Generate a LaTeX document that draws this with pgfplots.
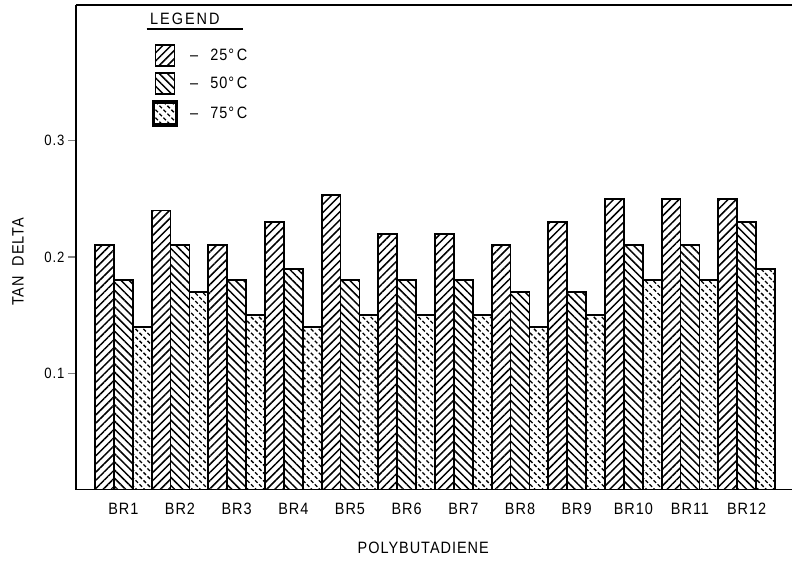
\documentclass[border=0pt]{standalone}
\usepackage{pgfplots}
\pgfplotsset{compat=1.18}
\usepackage{fontspec}
\setmainfont{Liberation Sans}[FakeStretch=0.88,LetterSpace=6]
\usetikzlibrary{patterns,patterns.meta}

\pgfdeclarepattern{
  name=dashNW,
  type=uncolored,
  bottom left={\pgfpoint{-0.5pt}{-0.5pt}},
  top right={\pgfpoint{8.5pt}{8.5pt}},
  tile size={\pgfpoint{8pt}{8pt}},
  code={
    \pgfsetlinewidth{1.3pt}
    \pgfsetdash{{3.6pt}{2.06pt}}{0pt}
    \pgfpathmoveto{\pgfpoint{0pt}{8pt}}
    \pgfpathlineto{\pgfpoint{8pt}{0pt}}
    \pgfusepath{stroke}
  }
}

\pgfplotsset{
  framedlegend/.style={legend image code/.code={\draw[##1, line width=3.5pt, draw=black] (-2bp,-11.5bp) rectangle (21bp,11.5bp);}},
}

\pgfplotstableread{
x  t25   t50   t75
0  0.210 0.180 0.140
1  0.240 0.210 0.170
2  0.210 0.180 0.150
3  0.230 0.190 0.140
4  0.253 0.180 0.150
5  0.220 0.180 0.150
6  0.220 0.180 0.150
7  0.210 0.170 0.140
8  0.230 0.170 0.150
9  0.250 0.210 0.180
10 0.250 0.210 0.180
11 0.250 0.230 0.190
}\datatable

\begin{document}
\begin{tikzpicture}
\begin{axis}[
  scale only axis,
  width=716bp, height=484.6bp,
  xmin=-0.835, xmax=11.8,
  ymin=0, ymax=0.4167,
  axis x line=box,
  axis y line=left,
  axis line style={-, line width=1.7pt},
  ybar, bar width=0.3333,
  xtick={0,...,11},
  xticklabels={BR1,BR2,BR3,BR4,BR5,BR6,BR7,BR8,BR9,BR10,BR11,BR12},
  x tick style={draw=none},
  ytick={0.1,0.2,0.3},
  yticklabels={0.1,0.2,0.3},
  tick align=outside,
  major tick length=8bp,
  y tick style={line width=1.3pt},
  xticklabel style={font=\fontsize{16.5}{18}\selectfont, yshift=-2bp},
  yticklabel style={font=\fontsize{15}{16}\selectfont},
  xlabel={POLYBUTADIENE},
  ylabel={TAN\ \ DELTA},
  label style={font=\fontsize{16.5}{18}\selectfont},
  xlabel style={at={(axis description cs:0.485,-0.12)}, anchor=center},
  ylabel style={at={(axis description cs:-0.081,0.47)}, anchor=center},
  legend style={at={(axis description cs:0.1055,0.9195)}, anchor=north west,
    draw=none, fill=none, row sep=5.5bp, inner sep=0pt,
    font=\fontsize{16.5}{18}\selectfont},
  legend cell align=left,
  legend image code/.code={\draw[#1, line width=1.6pt, draw=black] (0bp,-10.5bp) rectangle (19bp,10.5bp);},
  every axis plot/.append style={draw=black, line width=1.8pt},
  clip=false,
]
\addplot[bar shift=-0.3333, pattern={Lines[angle=45,distance=5.8pt,line width=1.5pt]}] table[x=x,y=t25] {\datatable};
\addplot[bar shift=0, pattern={Lines[angle=-45,distance=5.8pt,line width=1.5pt]}] table[x=x,y=t50] {\datatable};
\addplot[bar shift=0.3333, pattern=dashNW, framedlegend] table[x=x,y=t75] {\datatable};
\legend{{\hspace{10bp}--\hspace{12bp}25°\,C},{\hspace{10bp}--\hspace{12bp}50°\,C},{\hspace{10bp}--\hspace{12bp}75°\,C}}
\node[anchor=base west, inner sep=0pt, font=\fontsize{16.5}{18}\selectfont\addfontfeature{LetterSpace=12}] (lg) at (axis description cs:0.1034,0.9588) {LEGEND};
\draw[line width=1.3pt] (axis description cs:0.0987,0.9502) -- (axis description cs:0.2332,0.9502);
\end{axis}
\pgfresetboundingbox
\path[use as bounding box] ([xshift=-76bp,yshift=-78.4bp]current axis.south west) rectangle ([yshift=5bp]current axis.north east);
\end{tikzpicture}
\end{document}
